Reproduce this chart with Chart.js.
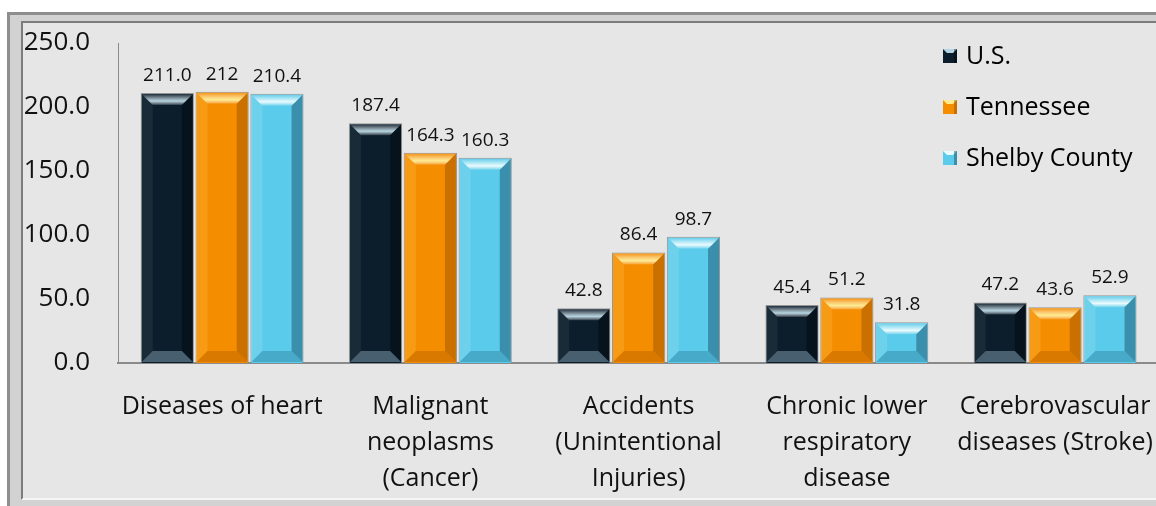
<!DOCTYPE html>
<html>
<head>
<meta charset="utf-8">
<script src="https://cdn.jsdelivr.net/npm/chart.js@4/dist/chart.umd.min.js"></script>
<style>
  html, body { margin: 0; padding: 0; background: #fff; overflow: hidden; }
  body { width: 1156px; height: 506px; position: relative; }
  .frame {
    position: absolute; left: 7px; top: 12px; width: 1200px; height: 500px;
    box-sizing: border-box;
    border-top: 3px solid #8e8e8e; border-left: 3px solid #8e8e8e;
    background: #d2d2d2;
  }
  .panel {
    position: absolute; left: 21px; top: 21px; width: 1200px; height: 479px;
    box-sizing: border-box;
    border-top: 2px solid #7c7c7c; border-left: 2px solid #7c7c7c;
    border-bottom: 2px solid #f6f6f6;
    background: #e6e6e6;
  }
  #wrap { position: absolute; left: 22px; top: 0; width: 1150px; height: 506px; }
</style>
</head>
<body>
<div class="frame"></div>
<div class="panel"></div>
<div id="wrap"><canvas id="myChart"></canvas></div>
<script>
const categories = [
    "Diseases of heart",
    ["Malignant", "neoplasms", "(Cancer)"],
    ["Accidents", "(Unintentional", "Injuries)"],
    ["Chronic lower", "respiratory", "disease"],
    ["Cerebrovascular", "diseases (Stroke)"],
];
const usValues = [211.0, 187.4, 42.8, 45.4, 47.2];
const tnValues = [212, 164.3, 86.4, 51.2, 43.6];
const shelbyValues = [210.4, 160.3, 98.7, 31.8, 52.9];
// labels as printed on the chart
const usLabels = ["211.0", "187.4", "42.8", "45.4", "47.2"];
const tnLabels = ["212", "164.3", "86.4", "51.2", "43.6"];
const shelbyLabels = ["210.4", "160.3", "98.7", "31.8", "52.9"];

const FONT = "'Open Sans', 'Noto Sans', sans-serif";

const bevels = [
    { top: "rgba(200,232,245,0.9)", bottom: "rgba(120,150,165,0.55)", right: "rgba(0,0,0,0.35)", left: "rgba(255,255,255,0.06)" },
    { top: "rgba(255,240,150,0.95)", bottom: "rgba(170,85,0,0.35)", right: "rgba(120,60,0,0.35)", left: "rgba(255,200,80,0.25)" },
    { top: "rgba(240,253,255,0.95)", bottom: "rgba(40,110,140,0.35)", right: "rgba(20,70,100,0.45)", left: "rgba(255,255,255,0.12)" },
];

const bevelPlugin = {
    id: "bevel",
    afterDatasetsDraw(chart) {
        const ctx = chart.ctx;
        chart.data.datasets.forEach((ds, i) => {
            const meta = chart.getDatasetMeta(i);
            const c = bevels[i];
            meta.data.forEach((bar) => {
                const p = bar.getProps(["x", "y", "base", "width"], true);
                const l = p.x - p.width / 2 + 1, r = p.x + p.width / 2 - 1;
                const t = p.y + 1, b = p.base - 1;
                const s = Math.min(11, (b - t) / 3);
                ctx.save();
                const poly = (pts, col) => {
                    ctx.beginPath();
                    ctx.moveTo(pts[0][0], pts[0][1]);
                    for (let k = 1; k < pts.length; k++) ctx.lineTo(pts[k][0], pts[k][1]);
                    ctx.closePath();
                    ctx.fillStyle = col;
                    ctx.fill();
                };
                poly([[l, t], [l + s, t + s], [l + s, b - s], [l, b]], c.left);
                poly([[r, t], [r - s, t + s], [r - s, b - s], [r, b]], c.right);
                const g = ctx.createLinearGradient(0, t, 0, t + s);
                g.addColorStop(0, "rgba(255,255,255,0.05)");
                g.addColorStop(0.65, c.top);
                g.addColorStop(1, "rgba(255,255,255,0.15)");
                poly([[l, t], [r, t], [r - s, t + s], [l + s, t + s]], g);
                poly([[l, b], [r, b], [r - s, b - s], [l + s, b - s]], c.bottom);
                ctx.restore();
            });
        });
    },
};

const valueLabelPlugin = {
    id: "valueLabels",
    afterDatasetsDraw(chart) {
        const ctx = chart.ctx;
        ctx.save();
        ctx.font = "19px " + FONT;
        ctx.fillStyle = "#111";
        ctx.textAlign = "center";
        ctx.textBaseline = "bottom";
        chart.data.datasets.forEach((ds, i) => {
            chart.getDatasetMeta(i).data.forEach((bar, j) => {
                ctx.fillText(ds.valueLabels[j], bar.x, bar.y - 8);
            });
        });
        ctx.restore();
    },
};

const legendPlugin = {
    id: "sideLegend",
    afterDraw(chart) {
        const ctx = chart.ctx;
        ctx.save();
        ctx.font = "25px " + FONT;
        ctx.textBaseline = "middle";
        chart.data.datasets.forEach((ds, i) => {
            const y = 56 + i * 51;
            const x = 921;
            ctx.fillStyle = ds.backgroundColor;
            ctx.fillRect(x, y - 7, 14, 14);
            ctx.fillStyle = bevels[i].top;
            ctx.beginPath();
            ctx.moveTo(x, y - 7); ctx.lineTo(x + 14, y - 7); ctx.lineTo(x + 10, y - 3); ctx.lineTo(x + 4, y - 3);
            ctx.fill();
            ctx.fillStyle = bevels[i].right;
            ctx.fillRect(x + 11, y - 7, 3, 14);
            ctx.fillStyle = "#000";
            ctx.fillText(ds.label, x + 23, y + 1);
        });
        ctx.restore();
    },
};

const ctx = document.getElementById("myChart");

new Chart(ctx, {
    type: "bar",
    data: {
        labels: categories,
        datasets: [
            { label: "U.S.", data: usValues, valueLabels: usLabels, backgroundColor: "#0c1e2c" },
            { label: "Tennessee", data: tnValues, valueLabels: tnLabels, backgroundColor: "#f58d00" },
            { label: "Shelby County", data: shelbyValues, valueLabels: shelbyLabels, backgroundColor: "#5acbea" },
        ],
    },
    options: {
        responsive: true,
        maintainAspectRatio: false,
        animation: false,
        layout: { padding: { top: 43, right: 11, left: 0, bottom: 0 } },
        datasets: {
            bar: {
                categoryPercentage: 0.79,
                barPercentage: 0.97,
                borderWidth: 1,
                borderColor: "rgba(140,140,140,0.9)",
            },
        },
        scales: {
            x: {
                grid: { display: false },
                border: { display: true, color: "#8a8a8a", width: 2 },
                ticks: {
                    color: "#111",
                    maxRotation: 0,
                    autoSkip: false,
                    padding: 18,
                    font: { size: 25, family: FONT, lineHeight: 1.44 },
                },
                afterFit(s) { s.height = 143; },
            },
            y: {
                min: 0,
                max: 250,
                grid: { display: false },
                border: { display: true, color: "#8a8a8a", width: 1 },
                ticks: {
                    stepSize: 50,
                    color: "#111",
                    padding: 20,
                    font: { size: 26, family: FONT },
                    callback: (v) => v.toFixed(1),
                },
                afterFit(s) { s.width = 96; },
            },
        },
        plugins: {
            legend: { display: false },
            tooltip: { enabled: false },
        },
    },
    plugins: [bevelPlugin, valueLabelPlugin, legendPlugin],
});
</script>
</body>
</html>
